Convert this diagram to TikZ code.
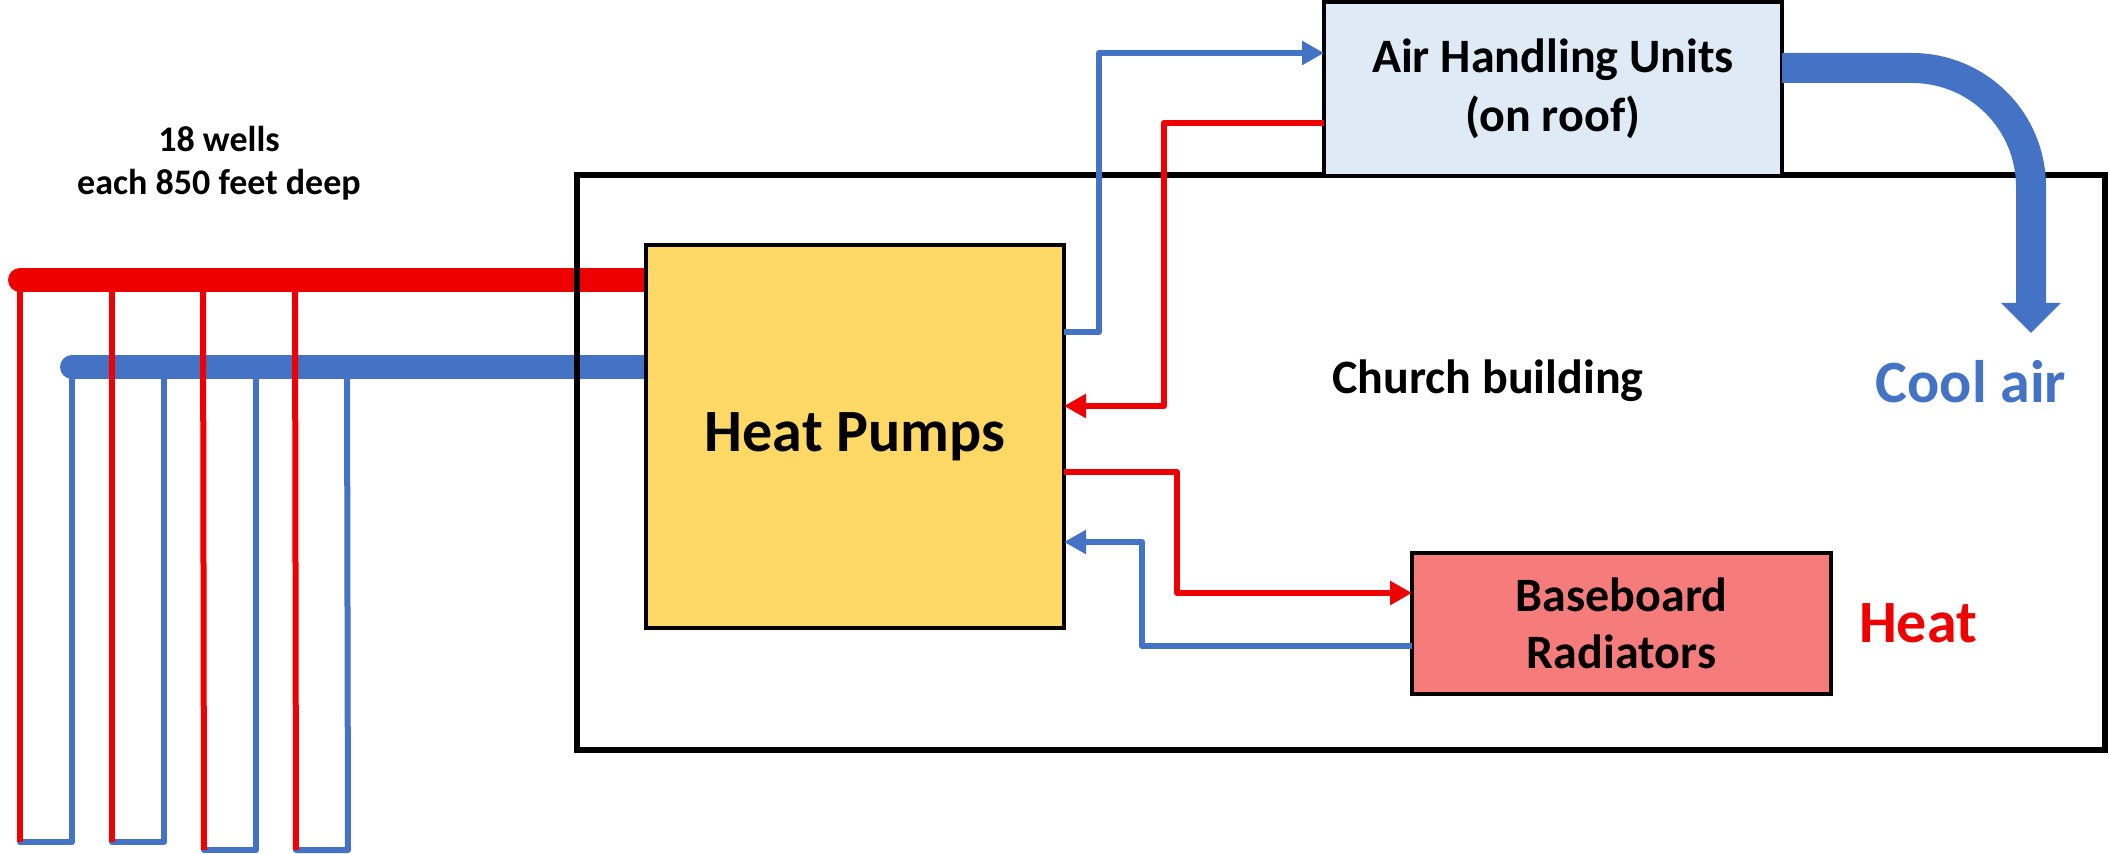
\documentclass[tikz,border=0pt]{standalone}
\usepackage{xcolor}
\usepackage{fontspec}
\setmainfont{Carlito}
\usetikzlibrary{arrows.meta}
\definecolor{hotred}{HTML}{EE0000}
\definecolor{coldblue}{HTML}{4472C4}
\definecolor{pumpyellow}{HTML}{FFD966}
\definecolor{roofblue}{HTML}{DEEBF7}
\definecolor{radred}{HTML}{F67C7C}
\tikzset{
  mainbar/.style={line width=12pt,line cap=round},
  wellpipe/.style={line width=3pt,line cap=round,line join=round},
  thinpipe/.style={line width=3pt,line join=round,-{Triangle[length=11pt,width=11.5pt]}},
  unitbox/.style={draw=black,line width=2pt,outer sep=0pt,align=center,inner sep=0pt},
  bigtext/.style={font=\fontsize{24}{29.5}\selectfont\bfseries,align=center}
}
\begin{document}
\begin{tikzpicture}[x=0.5pt,y=-0.5pt]
  \useasboundingbox (0,0) rectangle (2109,854);
  % main lines from the wells
  \coordinate (hotend) at (20,280);
  \coordinate (coldend) at (72,367);
  \coordinate (pumphot) at (646,280);
  \coordinate (pumpcold) at (646,367);
  \draw[mainbar,hotred] (hotend) -- (pumphot);
  \draw[mainbar,coldblue] (coldend) -- (pumpcold);
  % wells
  \coordinate (wellone) at (20,842);
  \coordinate (welltwo) at (112,842);
  \coordinate (wellthree) at (204,850);
  \coordinate (wellfour) at (296,850);
  \draw[wellpipe,coldblue] (wellone) -- ++(52,0) -- (72,367);
  \draw[wellpipe,coldblue] (welltwo) -- ++(52,0) -- (164,367);
  \draw[wellpipe,coldblue] (wellthree) -- ++(52,0) -- (256,367);
  \draw[wellpipe,coldblue] (wellfour) -- ++(52,0) -- (347,367);
  \draw[line width=3pt,hotred] (wellone) -- (20,280);
  \draw[line width=3pt,hotred] (welltwo) -- (112,280);
  \draw[line width=3pt,hotred] (wellthree) -- (203,280);
  \draw[line width=3pt,hotred] (wellfour) -- (295,280);
  \node[bigtext,font=\fontsize{18}{21.5}\selectfont\bfseries] (wellnote) at (219,163) {18 wells\\each 850 feet deep};
  % building
  \draw[black,line width=3pt] (577,175.5) rectangle (2105,750);
  \node[bigtext] (churchlabel) at (1488,381) {Church building};
  % units
  \node[unitbox,fill=pumpyellow,minimum width=209pt,minimum height=191.5pt,font=\fontsize{30}{34}\selectfont\bfseries] (pumps) at (855,436.5) {\raisebox{-2pt}{Heat Pumps}};
  \node[unitbox,fill=roofblue,minimum width=229pt,minimum height=87pt,font=\fontsize{24}{29.5}\selectfont\bfseries] (airunits) at (1553,89) {Air Handling Units\\(on roof)};
  \node[unitbox,fill=radred,minimum width=209.5pt,minimum height=70.5pt,font=\fontsize{24}{28.5}\selectfont\bfseries] (radiators) at (1621.5,623.5) {Baseboard\\Radiators};
  % pipes
  \coordinate (pumpoutcold) at (1064,332);
  \coordinate (airincold) at (1324,53);
  \coordinate (airouthot) at (1324,123);
  \coordinate (pumpinhot) at (1064,406);
  \coordinate (pumpouthot) at (1064,472);
  \coordinate (radinhot) at (1412,593);
  \coordinate (radoutcold) at (1412,646);
  \coordinate (pumpincold) at (1064,542);
  \draw[thinpipe,coldblue] (pumpoutcold) -- ++(35,0) |- (airincold);
  \draw[thinpipe,hotred] (airouthot) -- ++(-160,0) |- (pumpinhot);
  \draw[thinpipe,hotred] (pumpouthot) -- ++(113,0) |- (radinhot);
  \draw[thinpipe,coldblue] (radoutcold) -- ++(-270,0) |- (pumpincold);
  % cool air duct
  \coordinate (ductstart) at (1782,68);
  \coordinate (ducttip) at (2031,333);
  \draw[coldblue,line width=15pt,-{Triangle[length=15pt,width=29pt]}] (ductstart) -- (1912,68) .. controls (1978,68) and (2031,121) .. (2031,187) -- (ducttip);
  \node[font=\fontsize{30}{34}\selectfont\bfseries,text=coldblue] (coolair) at (1971,382) {Cool air};
  \node[font=\fontsize{30}{34}\selectfont\bfseries,text=hotred] (heatlabel) at (1918,623) {Heat};
\end{tikzpicture}
\end{document}
